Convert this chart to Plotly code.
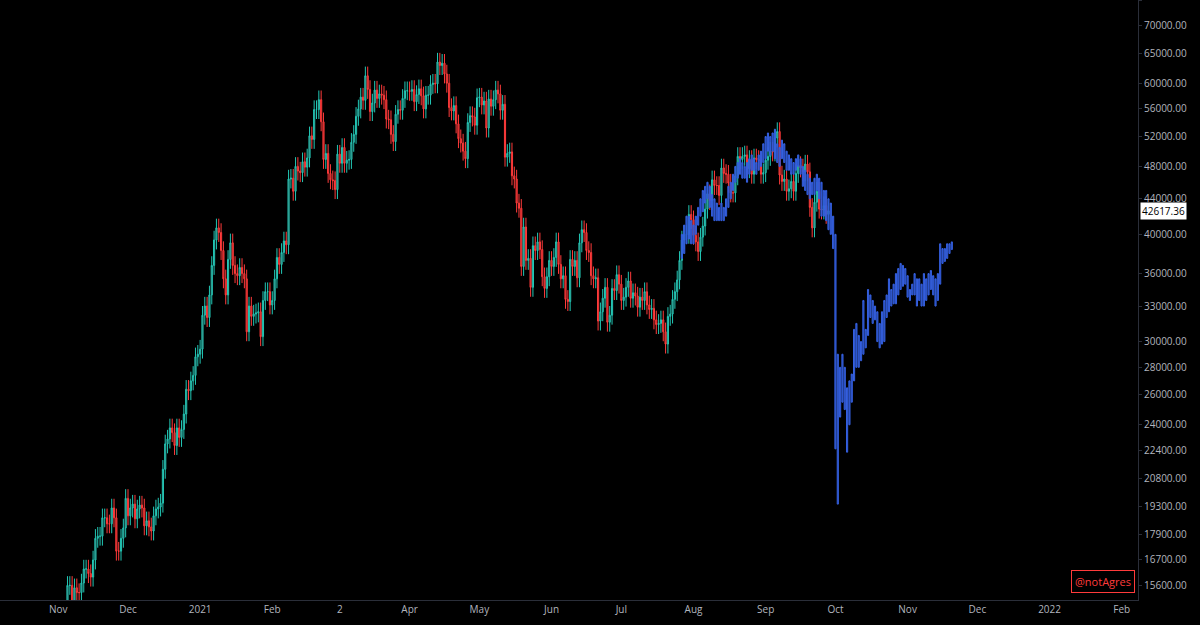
import plotly.graph_objects as go
import pandas as pd
import math

# Daily closes (thousands USD), Nov 1 2020 -> Sep 28 2021
closes = [
13.7,13.5,14.0,14.1,15.6,15.6,14.8,15.5,15.3,15.3,15.7,16.3,16.3,16.1,15.95,16.7,17.7,17.8,17.8,18.7,18.7,18.4,18.4,19.2,18.7,17.1,17.1,17.7,18.2,19.7,
18.8,19.2,19.4,18.65,19.15,19.35,19.2,18.3,18.55,18.25,18.05,18.8,19.15,19.25,19.45,21.3,22.8,23.1,23.8,23.5,22.7,23.8,23.2,23.7,24.7,26.4,26.3,27.0,27.4,28.8,29.0,
29.4,32.2,33.0,32.0,34.0,36.8,39.4,40.7,40.2,38.3,35.5,34.0,37.4,39.1,36.8,36.0,35.8,36.6,36.0,35.5,30.8,33.0,32.1,32.3,32.4,32.5,30.4,33.5,34.3,34.3,33.1,
33.5,35.5,37.6,36.9,38.1,39.3,38.9,46.4,46.5,44.9,48.0,47.4,47.2,48.6,47.9,49.1,52.1,51.6,55.9,55.9,57.4,54.1,48.9,49.7,47.1,46.3,46.2,45.1,
49.6,48.4,50.5,48.4,48.8,48.9,51.2,52.3,54.9,56.0,57.8,57.3,61.2,59.0,55.6,56.9,58.9,57.6,58.3,58.1,57.4,54.5,54.4,52.3,51.3,55.2,55.9,55.8,57.6,58.8,58.8,
58.7,59.0,57.1,58.2,59.1,58.0,56.0,58.1,58.1,59.8,60.0,59.9,63.5,62.9,63.3,61.5,60.0,56.2,55.7,56.5,53.8,51.7,51.1,50.0,49.0,54.0,55.0,54.8,53.6,57.7,
57.8,56.6,57.2,53.2,57.5,56.4,57.4,58.9,58.3,55.8,56.7,49.2,49.7,49.9,46.8,46.4,43.5,42.9,36.7,40.8,37.3,37.5,34.7,38.8,38.3,39.2,38.4,35.7,34.6,35.7,37.3,
36.7,37.6,39.2,36.9,35.5,35.8,33.6,33.4,37.4,36.7,37.3,35.6,39.1,40.5,40.2,38.3,38.1,35.8,35.5,35.6,31.7,32.5,33.7,34.7,31.6,32.2,34.6,34.4,35.9,35.0,
33.5,33.8,34.7,35.3,33.7,34.2,33.9,32.9,33.8,33.5,34.3,33.1,32.7,32.8,31.8,31.4,31.5,31.8,30.8,29.8,32.1,32.3,33.6,34.3,35.4,37.3,39.4,40.0,40.0,42.2,41.6,
39.9,39.2,38.2,39.7,40.9,42.8,44.6,43.8,46.3,45.6,45.6,44.4,47.8,47.1,47.0,45.9,44.7,44.7,46.8,49.3,48.9,49.3,49.5,47.7,48.9,47.0,49.1,48.9,48.8,47.0,47.2,
48.8,49.3,50.0,49.9,51.8,52.7,46.9,46.1,46.4,44.9,45.2,46.1,44.9,47.1,48.1,47.8,47.3,48.3,47.3,43.0,40.7,43.6,44.9,42.8,42.7,43.2,42.2,42.617]
wick_pct = 0.025
last_price = 42617.36

# Blue projection: daily (high, low) in thousands, Jul 27 -> Nov 20 2021
proj_hi = [40,41,42,42,41.5,41,42,43,44,45,45.5,46,45.5,44.5,44,43.5,43,43.5,43,44,45.5,46,47,48,48.5,49,48.5,48,48.5,49,49.5,49,48.5,49.5,50,51,
52,52.5,52,52.5,53,51,50.5,51.5,51,50,49.5,49,48.5,49,49.5,49,48,47.5,47,46.5,46,46.5,47,46.5,46,45,45,44,43.5,42,
40,29,28,29,28,26.5,27,27.5,31,31.5,30.5,30,33.5,31,34.5,34,33.5,33,32.5,31.5,32.5,33.5,34,35.5,34.5,35,36,36.5,37,36.8,36.5,
35.8,34.5,35,36,35.5,35.5,35,36,35.5,36,36.3,35.8,35.5,36,39,38.5,38.5,39,39,39.2]
proj_lo = [37.5,38,39,39.5,39,39,40,41,42,42.5,43.5,44,43,42,41.5,41.5,41.5,41.5,41.5,42,43,44,45,46,46.5,47,46.5,46.5,46,47,47.5,47.5,47,47.5,48,48.5,
49,50,49.5,50,49,48.5,48,49,48.5,47.5,47.5,47,47,47.5,48,47,45.5,45,44.5,44,44.5,44.5,45,44,42,42,41.5,40.5,40,38.5,
22.5,19.4,24.5,25.5,25,22.3,24,25.5,27,28,28,28.5,29,29.5,30.5,32,31.5,31.8,30,29.5,29.8,30,32,32.5,33,33.2,33.2,34,34.5,34.8,35,
33.8,33.5,34,34,33,33.5,33,33,33.5,34,34.5,34,33,33.5,35,37,37.2,37.5,38,38.4]

tick_vals = [15600,16700,17900,19300,20800,22400,24000,26000,28000,30000,33000,36000,40000,44000,48000,52000,56000,60000,65000,70000,75000]
x_tick_dates = ["2020-11-01","2020-12-01","2021-01-01","2021-02-01","2021-03-02","2021-04-01","2021-05-01","2021-06-01","2021-07-01","2021-08-01","2021-09-01","2021-10-01","2021-11-01","2021-12-01","2022-01-01","2022-02-01"]
x_tick_text = ["Nov","Dec","2021","Feb","2","Apr","May","Jun","Jul","Aug","Sep","Oct","Nov","Dec","2022","Feb"]

dates = pd.date_range("2020-11-01", periods=len(closes), freq="D")
c = [v*1000 for v in closes]
o = [c[0]] + c[:-1]
h = [max(a, b)*(1+wick_pct) for a, b in zip(o, c)]
l = [min(a, b)*(1-wick_pct) for a, b in zip(o, c)]

pdates = pd.date_range("2021-07-27", periods=len(proj_hi), freq="D")
ph = [v*1000 for v in proj_hi]
pl = [v*1000 for v in proj_lo]

fig = go.Figure()
fig.add_trace(go.Candlestick(x=dates, open=o, high=h, low=l, close=c,
    increasing=dict(line=dict(color="#22c7b5", width=1), fillcolor="#4a4f55"),
    decreasing=dict(line=dict(color="#ff3b3b", width=1), fillcolor="#a01c1c"),
    whiskerwidth=0, hoverinfo="skip", showlegend=False))
fig.add_trace(go.Candlestick(x=pdates, open=pl, high=ph, low=pl, close=ph,
    increasing=dict(line=dict(color="#3560e0", width=1), fillcolor="rgba(40,80,200,0.85)"),
    decreasing=dict(line=dict(color="#3560e0", width=1), fillcolor="rgba(40,80,200,0.85)"),
    whiskerwidth=0, hoverinfo="skip", showlegend=False))

fig.update_layout(
    width=1200, height=625, paper_bgcolor="#000000", plot_bgcolor="#000000",
    margin=dict(l=0, r=62, t=0, b=25, pad=0, autoexpand=False),
    font=dict(family="Open Sans", color="#b2b5be", size=10),
    xaxis=dict(type="date", range=["2020-10-07", "2022-02-08"], rangeslider=dict(visible=False),
               tickvals=x_tick_dates, ticktext=x_tick_text, showgrid=False, zeroline=False,
               showline=True, linecolor="#2a2e39", ticks="", automargin=False),
    yaxis=dict(type="log", side="right", range=[math.log10(15000), math.log10(75000)],
               tickvals=tick_vals, ticktext=[f"{v:.2f}" for v in tick_vals],
               showgrid=False, zeroline=False, showline=True, linecolor="#2a2e39", ticks="outside",
               ticklen=3, tickcolor="#2a2e39", automargin=False),
)
fig.add_annotation(xref="paper", x=1.0, xanchor="left", yref="y", y=math.log10(last_price),
    text=f"{last_price:.2f}", showarrow=False, bgcolor="#ffffff", font=dict(color="#000000", size=10),
    borderpad=1, xshift=2)
fig.add_annotation(xref="paper", x=0.997, xanchor="right", yref="paper", y=0.012, yanchor="bottom",
    text="@notAgres", showarrow=False, font=dict(color="#ff3b3b", size=11),
    bordercolor="#ff3b3b", borderwidth=1, borderpad=3, bgcolor="#000000")
fig.write_html("out.html", config={"displayModeBar": False},
               post_script="document.body.style.margin='0';document.body.style.background='#000';")
